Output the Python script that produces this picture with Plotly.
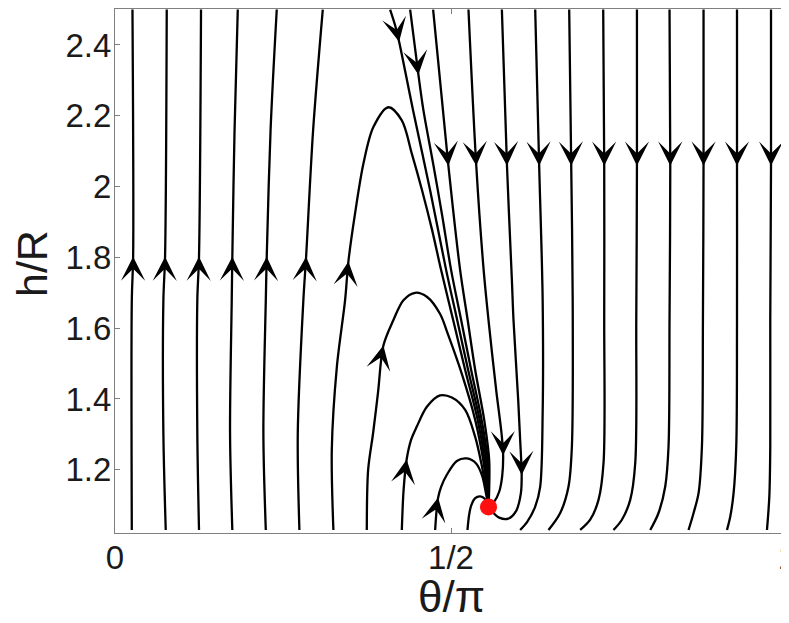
import numpy as np
import plotly.graph_objects as go

# ---------------- axes ----------------
X_RANGE = [0.0, 1.0]
Y_RANGE = [1.0215, 2.5015]
X_TICKS = [0, 0.5, 1]
X_TICK_LABELS = ["0", "1/2", "1"]
Y_TICKS = [1.2, 1.4, 1.6, 1.8, 2.0, 2.2, 2.4]
Y_TICK_LABELS = ["1.2", "1.4", "1.6", "1.8", "2", "2.2", "2.4"]
X_TITLE = "θ/π"
Y_TITLE = "h/R"

# stable fixed point (red dot)
FIXED_X = 0.5558
FIXED_Y = 1.095

# ---------------- streamlines (ordered along the flow) ----------------
# left family, flowing upward
L1_X = [0.025, 0.025, 0.027, 0.026]
L1_Y = [1.03, 1.679, 1.802, 2.50]
L2_X = [0.0755, 0.072, 0.072, 0.0745, 0.077]
L2_Y = [1.03, 1.304, 1.679, 1.802, 2.50]
L3_X = [0.125, 0.1225, 0.1225, 0.125, 0.128]
L3_Y = [1.03, 1.304, 1.679, 1.802, 2.50]
L4_X = [0.1746, 0.1712, 0.1737, 0.1746, 0.1779, 0.1827]
L4_Y = [1.03, 1.304, 1.679, 1.802, 2.159, 2.50]
L5_X = [0.2244, 0.2208, 0.2244, 0.2258, 0.2315, 0.2407]
L5_Y = [1.03, 1.304, 1.679, 1.802, 2.159, 2.50]
L6_X = [0.2744, 0.2720, 0.2803, 0.2844, 0.2948, 0.3092]
L6_Y = [1.03, 1.304, 1.679, 1.802, 2.159, 2.50]

# arches that turn over and fall into the fixed point
L7_X = [0.325, 0.3226, 0.3301, 0.3424, 0.3473, 0.3573, 0.3697, 0.3845, 0.4069,
        0.4268, 0.4417, 0.457, 0.4719, 0.4853, 0.5032, 0.5211, 0.5397, 0.5501,
        0.5546, FIXED_X]
L7_Y = [1.03, 1.256, 1.490, 1.679, 1.788, 1.925, 2.065, 2.168, 2.224,
        2.187, 2.093, 1.989, 1.877, 1.764, 1.623, 1.482, 1.341, 1.228,
        1.144, FIXED_Y]
L8_X = [0.3747, 0.3767, 0.3841, 0.3915, 0.3994, 0.4143, 0.4292, 0.4466, 0.4645,
        0.4838, 0.4958, 0.5166, 0.536, 0.5479, 0.5538, FIXED_X]
L8_Y = [1.03, 1.20, 1.304, 1.420, 1.551, 1.623, 1.679, 1.700, 1.688,
        1.640, 1.581, 1.468, 1.341, 1.228, 1.144, FIXED_Y]
L9_X = [0.4268, 0.4295, 0.434, 0.4407, 0.4491, 0.4641, 0.4838, 0.5013, 0.5211,
        0.536, 0.5456, 0.5523, FIXED_X]
L9_Y = [1.03, 1.144, 1.229, 1.285, 1.322, 1.378, 1.410, 1.404, 1.369,
        1.293, 1.214, 1.144, FIXED_Y]
L10_X = [0.4764, 0.4786, 0.4809, 0.4853, 0.4938, 0.5087, 0.5236, 0.5374, 0.5464,
         0.5516, FIXED_X]
L10_Y = [1.03, 1.087, 1.122, 1.152, 1.186, 1.225, 1.232, 1.218, 1.183,
         1.138, FIXED_Y]
L11_X = [0.5245, 0.527, 0.530, 0.536, 0.5434, 0.5501, FIXED_X]
L11_Y = [1.03, 1.073, 1.099, 1.120, 1.125, 1.118, FIXED_Y]

# lines coming down from the top into the fixed point
A1_X = [0.4094, 0.4169, 0.4228, 0.4436, 0.469, 0.4928, 0.5092, 0.5255, 0.5427,
        0.5523, 0.5553, FIXED_X]
A1_Y = [2.50, 2.455, 2.409, 2.215, 1.989, 1.764, 1.623, 1.482, 1.341,
        1.228, 1.144, FIXED_Y]
A2_X = [0.4392, 0.4515, 0.459, 0.4734, 0.4868, 0.5002, 0.5151, 0.530, 0.5456,
        0.5546, 0.5561, FIXED_X]
A2_Y = [2.50, 2.316, 2.215, 2.065, 1.919, 1.764, 1.623, 1.482, 1.341,
        1.228, 1.144, FIXED_Y]
F1_X = [0.4734, 0.4961, 0.5136, 0.5248, 0.536, 0.5494, 0.5568, 0.5568, FIXED_X]
F1_Y = [2.50, 2.059, 1.764, 1.623, 1.482, 1.341, 1.228, 1.144, FIXED_Y]
F2_X = [0.526, 0.5376, 0.5486, 0.5558, 0.5672, 0.5754, 0.5776, 0.5762, 0.5717,
        0.5643, FIXED_X]
F2_Y = [2.50, 2.059, 1.764, 1.623, 1.426, 1.299, 1.241, 1.183, 1.138,
        1.110, FIXED_Y]
F3_X = [0.5757, 0.5833, 0.5906, 0.593, 0.600, 0.6029, 0.6052, 0.604, 0.597,
        0.5851, 0.5717, 0.5613, FIXED_X]
F3_Y = [2.50, 2.059, 1.736, 1.623, 1.397, 1.285, 1.185, 1.134, 1.084,
        1.062, 1.065, 1.082, FIXED_Y]

# right family, flowing downward and hooking left at the bottom
H1_X = [0.6253, 0.6312, 0.6364, 0.6364, 0.6327, 0.6253, 0.6134, 0.6029]
H1_Y = [2.50, 2.059, 1.679, 1.361, 1.152, 1.096, 1.053, 1.03]
H2_X = [0.6759, 0.6789, 0.6811, 0.6799, 0.6749, 0.6625, 0.6451]
H2_Y = [2.50, 2.059, 1.679, 1.266, 1.153, 1.078, 1.03]
H3_X = [0.7265, 0.728, 0.728, 0.727, 0.7195, 0.7071, 0.6922]
H3_Y = [2.50, 2.059, 1.623, 1.220, 1.115, 1.059, 1.03]
H4_X = [0.7767, 0.7767, 0.7757, 0.7742, 0.7667, 0.7543, 0.7418]
H4_Y = [2.50, 2.059, 1.623, 1.220, 1.115, 1.059, 1.03]
H5_X = [0.8252, 0.8263, 0.8252, 0.8237, 0.8188, 0.8088, 0.7965]
H5_Y = [2.50, 2.059, 1.623, 1.266, 1.153, 1.078, 1.03]
H6_X = [0.8758, 0.8758, 0.8749, 0.8734, 0.8684, 0.861, 0.8535]
H6_Y = [2.50, 2.059, 1.623, 1.266, 1.134, 1.078, 1.03]
H7_X = [0.9256, 0.9256, 0.9256, 0.9245, 0.9205, 0.9156, 0.9107]
H7_Y = [2.50, 2.059, 1.623, 1.266, 1.134, 1.068, 1.03]
H8_X = [0.9762, 0.9762, 0.9751, 0.9751, 0.9737, 0.9702]
H8_Y = [2.50, 2.059, 1.623, 1.266, 1.125, 1.03]

CURVES = {
    "L1": (L1_X, L1_Y), "L2": (L2_X, L2_Y), "L3": (L3_X, L3_Y),
    "L4": (L4_X, L4_Y), "L5": (L5_X, L5_Y), "L6": (L6_X, L6_Y),
    "L7": (L7_X, L7_Y), "L8": (L8_X, L8_Y), "L9": (L9_X, L9_Y),
    "L10": (L10_X, L10_Y), "L11": (L11_X, L11_Y),
    "A1": (A1_X, A1_Y), "A2": (A2_X, A2_Y),
    "F1": (F1_X, F1_Y), "F2": (F2_X, F2_Y), "F3": (F3_X, F3_Y),
    "H1": (H1_X, H1_Y), "H2": (H2_X, H2_Y), "H3": (H3_X, H3_Y),
    "H4": (H4_X, H4_Y), "H5": (H5_X, H5_Y), "H6": (H6_X, H6_Y),
    "H7": (H7_X, H7_Y), "H8": (H8_X, H8_Y),
}

# arrowheads: (curve, vertex index) -- the head sits on that vertex
ARROWS = [
    ("L1", 2), ("L2", 3), ("L3", 3), ("L4", 3), ("L5", 3), ("L6", 3),
    ("L7", 4), ("L8", 4), ("L9", 2), ("L10", 2),
    ("A1", 2), ("A2", 1),
    ("F1", 1), ("F2", 1), ("F2", 6), ("F3", 1), ("F3", 6),
    ("H1", 1), ("H2", 1), ("H3", 1), ("H4", 1),
    ("H5", 1), ("H6", 1), ("H7", 1), ("H8", 1),
]

# ---------------- figure ----------------
# the page body adds an 8 px offset, so the figure is sized to fit the window
W, H = 781, 615
M = dict(l=107, r=2.3, t=0.7, b=89.7)
plot_w = W - M["l"] - M["r"]
plot_h = H - M["t"] - M["b"]
sx = plot_w / (X_RANGE[1] - X_RANGE[0])
sy = plot_h / (Y_RANGE[1] - Y_RANGE[0])

LINE_W = 2.3
fig = go.Figure()
for name, (xs, ys) in CURVES.items():
    fig.add_trace(go.Scatter(
        x=xs, y=ys, mode="lines",
        line=dict(color="black", width=LINE_W, shape="spline", smoothing=0.9),
        hoverinfo="skip", showlegend=False))

fig.add_trace(go.Scatter(
    x=[FIXED_X], y=[FIXED_Y], mode="markers",
    marker=dict(color="#ff1010", size=17, line=dict(width=0)),
    hoverinfo="skip", showlegend=False))

FONT = "Liberation Sans, Arial, Helvetica, sans-serif"
TXT = "#1a1a1a"
AX_COL = "#7f7f7f"

annotations = []
for name, i in ARROWS:
    xs, ys = CURVES[name]
    j0, j1 = max(i - 1, 0), min(i + 1, len(xs) - 1)
    dxp = (xs[j1] - xs[j0]) * sx
    dyp = (ys[j1] - ys[j0]) * sy
    n = np.hypot(dxp, dyp)
    ux, uy = dxp / n, dyp / n
    L = 12
    annotations.append(dict(
        x=xs[i], y=ys[i], xref="x", yref="y", text="", showarrow=True,
        ax=-ux * L, ay=uy * L, arrowhead=3, arrowsize=1.75,
        arrowwidth=LINE_W, arrowcolor="black", standoff=0))

# axis titles
annotations.append(dict(
    x=0.5, y=0, xref="paper", yref="paper", text=X_TITLE, showarrow=False,
    xanchor="center", yanchor="middle", yshift=-63,
    font=dict(size=44, family=FONT, color=TXT)))
annotations.append(dict(
    x=0, y=0.5, xref="paper", yref="paper", text=Y_TITLE, showarrow=False,
    xanchor="center", yanchor="middle", xshift=-83, yshift=7, textangle=-90,
    font=dict(size=43, family=FONT, color=TXT)))

axis_common = dict(
    ticks="inside", ticklen=5, tickwidth=1, tickcolor=AX_COL,
    showline=True, linecolor=AX_COL, linewidth=1.3, mirror="ticks",
    showgrid=False, zeroline=False, automargin=False,
    ticklabeloverflow="allow",
    tickfont=dict(size=33, family=FONT, color=TXT))

fig.update_layout(
    width=W, height=H, margin=M,
    paper_bgcolor="white", plot_bgcolor="white",
    annotations=annotations,
    font=dict(family=FONT, color=TXT),
    xaxis=dict(range=X_RANGE, tickvals=X_TICKS, ticktext=X_TICK_LABELS,
               ticklabelstandoff=-5, **axis_common),
    yaxis=dict(range=Y_RANGE, tickvals=Y_TICKS, ticktext=Y_TICK_LABELS,
               ticklabelstandoff=-4, **axis_common),
)

fig.write_html("out.html")
